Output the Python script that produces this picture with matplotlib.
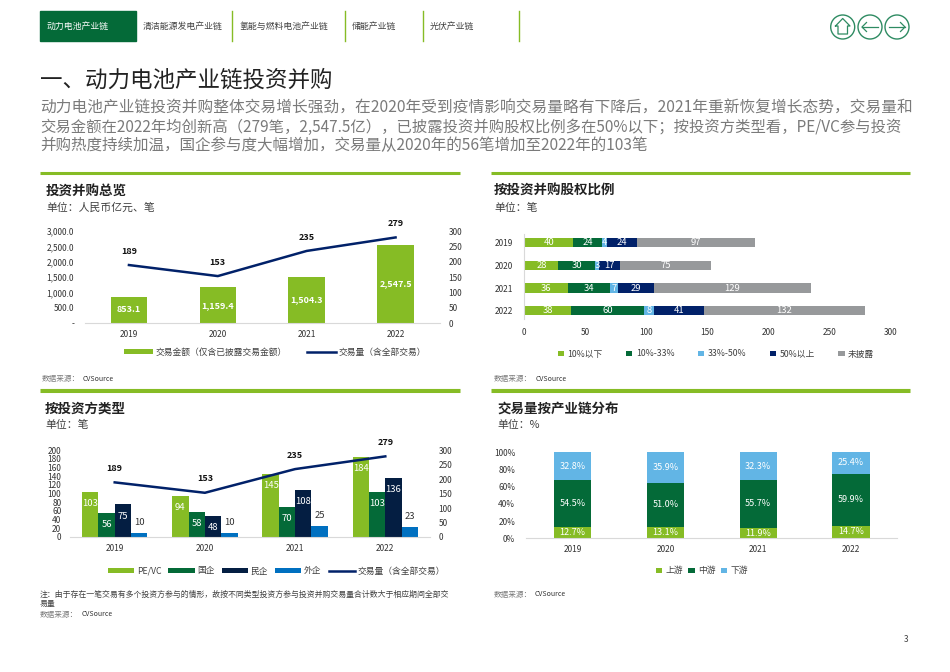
import matplotlib
matplotlib.use('Agg')
import matplotlib.pyplot as plt
import numpy as np
from matplotlib.patches import Circle, Rectangle
from matplotlib.lines import Line2D

plt.rcParams['font.family'] = ['Noto Sans CJK SC', 'DejaVu Sans']

W, H = 950, 672

# colours
GREEN = '#86BC25'
DARK = '#046A38'
NAVY = '#012169'
DEEP = '#041E42'
BLUE = '#0070C0'
SKY = '#62B5E5'
GREY = '#97999B'
AXIS = '#D9D9D9'
TXT = '#404040'

years = ['2019', '2020', '2021', '2022']
deals = [189, 153, 235, 279]
amount = [853.1, 1159.4, 1504.3, 2547.5]

stake_names = ['10%以下', '10%-33%', '33%-50%', '50%以上', '未披露']
stake_below10 = [40, 28, 36, 38]
stake_10_33 = [24, 30, 34, 60]
stake_33_50 = [4, 3, 7, 8]
stake_above50 = [24, 17, 29, 41]
stake_unknown = [97, 75, 129, 132]

pevc = [103, 94, 145, 184]
soe = [56, 58, 70, 103]
private = [75, 48, 108, 136]
foreign = [10, 10, 25, 23]

upstream = [12.7, 13.1, 11.9, 14.7]
midstream = [54.5, 51.0, 55.7, 59.9]
downstream = [32.8, 35.9, 32.3, 25.4]

tabs = ['动力电池产业链', '清洁能源发电产业链', '氢能与燃料电池产业链', '储能产业链', '光伏产业链']
tab_x = [47, 143, 239, 352, 430]
tab_div = [231.7, 345, 423.3, 519]

intro = ['动力电池产业链投资并购整体交易增长强劲，在2020年受到疫情影响交易量略有下降后，2021年重新恢复增长态势，交易量和',
         '交易金额在2022年均创新高（279笔，2,547.5亿），已披露投资并购股权比例多在50%以下；按投资方类型看，PE/VC参与投资',
         '并购热度持续加温，国企参与度大幅增加，交易量从2020年的56笔增加至2022年的103笔']
intro_fs = [11.3, 11.05, 11.2]

fig = plt.figure(figsize=(W / 100, H / 100), dpi=100)


def ftext(x, y, s, **kw):
    kw.setdefault('va', 'center')
    return fig.text(x / W, 1 - y / H, s, **kw)


def box_axes(left, top, right, bottom):
    return fig.add_axes([left / W, 1 - bottom / H, (right - left) / W, (bottom - top) / H])


def hline(x0, x1, y, color=GREEN, lw=1.0):
    fig.add_artist(Line2D([x0 / W, x1 / W], [1 - y / H, 1 - y / H], color=color, lw=lw, solid_capstyle='butt'))


def clean(ax, fs=6):
    for s in ax.spines.values():
        s.set_visible(False)
    ax.tick_params(length=0, labelsize=fs, colors='#333333')


def legend(ax, cx, cy, ncol, gap=1.2, handlelen=2.0):
    ax.legend(loc='center', bbox_to_anchor=(cx / W, 1 - cy / H), bbox_transform=fig.transFigure,
              ncol=ncol, frameon=False, fontsize=6.3, columnspacing=gap, handlelength=handlelen,
              handletextpad=0.4, labelcolor='#404040', borderpad=0, handleheight=0.6)


# header
fig.add_artist(Rectangle((39.5 / W, 1 - 41 / H), 96.5 / W, 29.5 / H, color=DARK, transform=fig.transFigure))
for i, t in enumerate(tabs):
    ftext(tab_x[i], 26.5, t, fontsize=6.4, color='white' if i == 0 else TXT)
for x in tab_div:
    fig.add_artist(Line2D([x / W, x / W], [1 - 11 / H, 1 - 41 / H], color=GREEN, lw=1.0))

# nav icons, drawn on a full page overlay in pixel coordinates
page = fig.add_axes([0, 0, 1, 1], zorder=5)
page.set_xlim(0, W)
page.set_ylim(H, 0)
page.axis('off')
ICON = '#2E8B62'
for cx in [842.7, 870, 897]:
    page.add_patch(Circle((cx, 27), 12, fill=False, ec=ICON, lw=1.0))
page.plot([835.5, 842.7, 850, 847.5, 847.5, 838, 838, 835.5], [26, 18.5, 26, 26, 34, 34, 26, 26], color=ICON, lw=0.9)
page.plot([862, 878], [27, 27], color=ICON, lw=0.9)
page.plot([866.5, 862, 866.5], [22.5, 27, 31.5], color=ICON, lw=0.9)
page.plot([889, 905], [27, 27], color=ICON, lw=0.9)
page.plot([900.5, 905, 900.5], [22.5, 27, 31.5], color=ICON, lw=0.9)

# title and intro
ftext(40, 80, '一、动力电池产业链投资并购', fontsize=16.2, color='#222222')
for y, line, fs in zip([108, 127, 146], intro, intro_fs):
    ftext(40, y, line, fontsize=fs, color='#7A7A7A')

# panel rules
hline(40, 459.5, 172.5, lw=2.2)
hline(491, 910, 172.5, lw=2.2)
hline(40, 459.5, 389, lw=0.8)
hline(491, 910, 389, lw=0.8)
hline(40, 459.5, 391, lw=2.2)
hline(491, 910, 391, lw=2.2)

# panel headings
ftext(46, 190.5, '投资并购总览', fontsize=9.7, fontweight='bold', color='#222222')
ftext(46, 208, '单位：人民币亿元、笔', fontsize=7.8, color=TXT)
ftext(494, 190.5, '按投资并购股权比例', fontsize=9.7, fontweight='bold', color='#222222')
ftext(494, 208, '单位：笔', fontsize=7.8, color=TXT)
ftext(45, 409, '按投资方类型', fontsize=9.7, fontweight='bold', color='#222222')
ftext(45, 425, '单位：笔', fontsize=7.8, color=TXT)
ftext(497, 409, '交易量按产业链分布', fontsize=9.7, fontweight='bold', color='#222222')
ftext(497, 425, '单位：%', fontsize=7.8, color=TXT)

# sources and note
for x, x2, y in [(42, 83, 379), (494, 536, 379), (40, 82, 614.5), (494, 535, 594.5)]:
    ftext(x, y, '数据来源：', fontsize=5.5, color='#7A7A7A')
    ftext(x2, y, 'CVSource', fontsize=5, color='#333333')
ftext(40, 594, '注：由于存在一笔交易有多个投资方参与的情形，故按不同类型投资方参与投资并购交易量合计数大于相应期间全部交', fontsize=5.68, color=TXT)
ftext(40, 603, '易量', fontsize=5.68, color=TXT)
ftext(908, 640, '3', fontsize=6, color=TXT, ha='right')

# chart 1: overview
x = np.arange(len(years))
ax = box_axes(84.5, 231, 440, 323)
clean(ax)
bars = ax.bar(x, amount, width=0.41, color=GREEN, label='交易金额（仅含已披露交易金额）')
ax.bar_label(bars, labels=[f'{v:,.1f}' for v in amount], label_type='center', color='white', fontsize=6.5, fontweight='bold')
ax.set_xlim(-0.5, 3.5)
ax.set_ylim(0, 3000)
ax.set_yticks(np.arange(0, 3001, 500))
ax.set_yticklabels(['-', '500.0', '1,000.0', '1,500.0', '2,000.0', '2,500.0', '3,000.0'])
ax.set_xticks(x, years)
ax.tick_params(axis='y', pad=7.5)
ax.tick_params(axis='x', pad=5)
ax.spines['bottom'].set_visible(True)
ax.spines['bottom'].set_color(AXIS)
ax2 = ax.twinx()
clean(ax2)
line, = ax2.plot(x, deals, color=NAVY, lw=1.8, label='交易量（含全部交易）')
ax2.set_ylim(0, 300)
ax2.set_yticks(np.arange(0, 301, 50))
ax2.tick_params(axis='y', pad=6)
for xi, v in zip(x, deals):
    ax2.annotate(str(v), (xi, v), xytext=(0, 10), textcoords='offset points', ha='center', va='center',
                 fontsize=6.5, fontweight='bold', color='#111111')
ax2.legend(handles=[bars, line], loc='center', bbox_to_anchor=(275 / W, 1 - 352 / H), bbox_transform=fig.transFigure,
           ncol=2, frameon=False, fontsize=6.3, columnspacing=2.2, handlelength=3.4, handletextpad=0.3,
           labelcolor='#404040', borderpad=0, handleheight=0.6)

# chart 2: stake share, horizontal stacks
ax = box_axes(524.3, 234, 890.7, 319.3)
clean(ax)
y = np.arange(len(years))
left = np.zeros(len(years))
series = [stake_below10, stake_10_33, stake_33_50, stake_above50, stake_unknown]
for vals, name, col in zip(series, stake_names, [GREEN, DARK, SKY, NAVY, GREY]):
    b = ax.barh(y, vals, height=0.4, left=left, color=col, label=name)
    ax.bar_label(b, label_type='center', color='white', fontsize=6.8)
    left += np.array(vals)
ax.set_yticks(y, years)
ax.invert_yaxis()
ax.set_xlim(0, 300)
ax.set_xticks(np.arange(0, 301, 50))
ax.tick_params(axis='y', pad=8)
ax.tick_params(axis='x', pad=6)
ax.spines['left'].set_visible(True)
ax.spines['left'].set_color(AXIS)
legend(ax, 716, 354, 5, gap=2.7, handlelen=0.7)

# chart 3: investor type
ax = box_axes(69.6, 450.3, 430.4, 537)
clean(ax)
bw = 0.181
groups = [(pevc, 'PE/VC', GREEN), (soe, '国企', DARK), (private, '民企', DEEP), (foreign, '外企', BLUE)]
handles = []
for k, (vals, name, col) in enumerate(groups):
    pos = x + (k - 1.5) * bw
    b = ax.bar(pos, vals, width=bw, color=col, label=name)
    handles.append(b)
    for px, v in zip(pos, vals):
        if k == 3:
            ax.annotate(str(v), (px, v), xytext=(0, 7.5), textcoords='offset points', ha='center', va='center',
                        fontsize=6.8, color='#333333')
        else:
            ax.annotate(str(v), (px, v), xytext=(0, -8.3), textcoords='offset points', ha='center', va='center',
                        fontsize=6.8, color='white')
ax.set_xlim(-0.5, 3.5)
ax.set_ylim(0, 200)
ax.set_yticks(np.arange(0, 201, 20))
ax.set_xticks(x, years)
ax.tick_params(axis='y', pad=6)
ax.tick_params(axis='x', pad=5)
ax.spines['bottom'].set_visible(True)
ax.spines['bottom'].set_color(AXIS)
ax2 = ax.twinx()
clean(ax2)
line, = ax2.plot(x, deals, color=NAVY, lw=1.8, label='交易量（含全部交易）')
ax2.set_ylim(0, 300)
ax2.set_yticks(np.arange(0, 301, 50))
ax2.tick_params(axis='y', pad=6)
for xi, v in zip(x, deals):
    ax2.annotate(str(v), (xi, v), xytext=(0, 10), textcoords='offset points', ha='center', va='center',
                 fontsize=6.5, fontweight='bold', color='#111111')
ax2.legend(handles=handles + [line], loc='center', bbox_to_anchor=(276.5 / W, 1 - 571 / H), bbox_transform=fig.transFigure,
           ncol=5, frameon=False, fontsize=6.3, columnspacing=0.8, handlelength=3.0, handletextpad=0.3,
           labelcolor='#404040', borderpad=0, handleheight=0.6)

# chart 4: value chain split
ax = box_axes(526.3, 452, 897.4, 538.3)
clean(ax)
bottom = np.zeros(len(years))
for vals, name, col in zip([upstream, midstream, downstream], ['上游', '中游', '下游'], [GREEN, DARK, SKY]):
    b = ax.bar(x, vals, width=0.4, bottom=bottom, color=col, label=name)
    ax.bar_label(b, labels=[f'{v:.1f}%' for v in vals], label_type='center', color='white', fontsize=6.5)
    bottom += np.array(vals)
ax.set_xlim(-0.5, 3.5)
ax.set_ylim(0, 100)
ax.set_yticks(np.arange(0, 101, 20))
ax.set_yticklabels([f'{v}%' for v in range(0, 101, 20)])
ax.set_xticks(x, years)
ax.tick_params(axis='y', pad=8)
ax.tick_params(axis='x', pad=5)
ax.spines['bottom'].set_visible(True)
ax.spines['bottom'].set_color(AXIS)
legend(ax, 702, 571, 3, gap=0.6, handlelen=0.7)

plt.savefig('out.png', dpi=100)
